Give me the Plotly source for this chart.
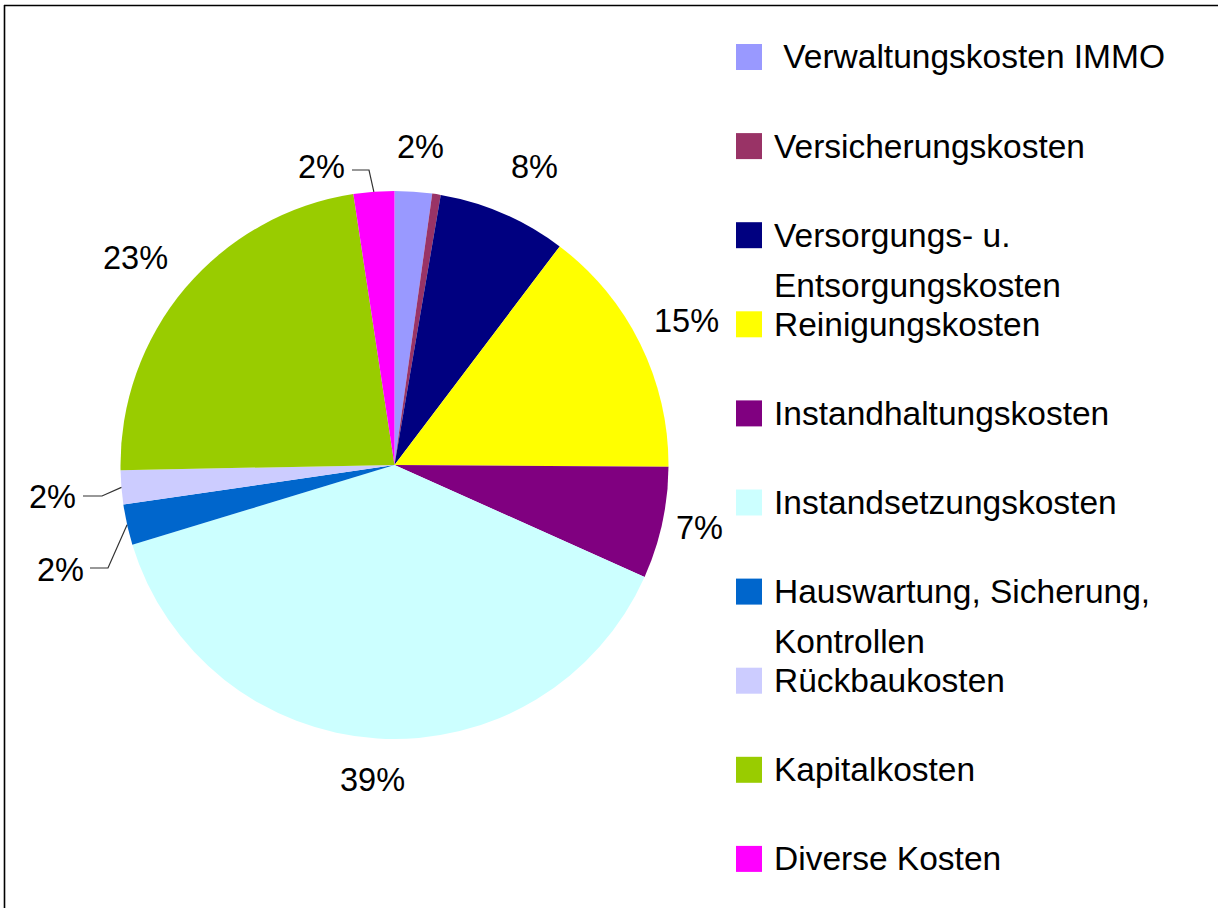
import math
import plotly.graph_objects as go

# ---------------- data ----------------
categories = [
    " Verwaltungskosten IMMO",
    "Versicherungskosten",
    "Versorgungs- u. Entsorgungskosten",
    "Reinigungskosten",
    "Instandhaltungskosten",
    "Instandsetzungskosten",
    "Hauswartung, Sicherung, Kontrollen",
    "Rückbaukosten",
    "Kapitalkosten",
    "Diverse Kosten",
]
shares = [2.2, 0.5, 7.6, 14.8, 6.6, 38.6, 2.4, 2.0, 22.9, 2.4]
colors = ["#9999FF", "#993366", "#000080", "#FFFF00", "#800080",
          "#CCFFFF", "#0066CC", "#CCCCFF", "#99CC00", "#FF00FF"]

# ---------------- layout constants (pixels) ----------------
W, H = 1218, 908
CX, CY, R = 394.5, 465.0, 274.0
FONT = "Liberation Sans, Arial, sans-serif"
LABEL_FS = 32.5
LEGEND_FS = 33.5

# visual centres of percentage labels (None = no label shown)
label_pos = [(420, 147), None, (534, 167), (686, 321), (699, 528),
             (372, 780), (60, 570), (52, 497), (135, 258), (321, 167)]
# leader lines: (start, elbow) in pixels; end point is computed on the pie rim
leaders = {6: ((90, 568), (108, 568)),
           7: ((83, 496), (102, 496)),
           9: ((352, 170), (369, 170))}

LEG_X_SQ, LEG_SQ = 736, 26
LEG_X_TXT = 772
LEG_Y0, LEG_DY, LEG_LINE = 57.0, 89.1, 50.0
WRAP = 24


def px(x):
    return x / W


def py(y):
    return 1 - y / H


fig = go.Figure(go.Pie(
    labels=categories,
    values=shares,
    marker=dict(colors=colors, line=dict(width=0)),
    sort=False,
    direction="clockwise",
    rotation=0,
    textinfo="none",
    hoverinfo="label+percent",
    showlegend=False,
    domain=dict(x=[px(CX - R), px(CX + R)], y=[py(CY + R), py(CY - R)]),
))

total = sum(shares)
annotations = []
shapes = []

# percentage labels
cum = 0.0
for i, v in enumerate(shares):
    mid = (cum + v / 2) / total * 2 * math.pi
    cum += v
    if label_pos[i] is None:
        continue
    lx, ly = label_pos[i]
    annotations.append(dict(
        x=px(lx), y=py(ly), xref="paper", yref="paper",
        text=f"{round(v / total * 100)}%", showarrow=False,
        xanchor="center", yanchor="middle",
        font=dict(family=FONT, size=LABEL_FS, color="#000000"),
    ))
    if i in leaders:
        (sx, sy), (ex, ey) = leaders[i]
        rx = CX + R * math.sin(mid)
        ry = CY - R * math.cos(mid)
        path = f"M {px(sx)} {py(sy)} L {px(ex)} {py(ey)} L {px(rx)} {py(ry)}"
        shapes.append(dict(type="path", path=path, xref="paper", yref="paper",
                           line=dict(color="#333333", width=1.2)))


def wrap(label, width):
    words = label.strip().split(" ")
    lines, cur = [], ""
    for w in words:
        cand = (cur + " " + w) if cur else w
        if len(cand) > width and cur:
            lines.append(cur)
            cur = w
        else:
            cur = cand
    lines.append(cur)
    lead = len(label) - len(label.lstrip(" "))
    lines[0] = "\u00a0" * lead + lines[0]
    return lines


# legend (custom, to match the original spacing)
for i, (cat, col) in enumerate(zip(categories, colors)):
    yc = LEG_Y0 + i * LEG_DY
    shapes.append(dict(type="rect", xref="paper", yref="paper",
                       x0=px(LEG_X_SQ), x1=px(LEG_X_SQ + LEG_SQ),
                       y0=py(yc - LEG_SQ / 2), y1=py(yc + LEG_SQ / 2),
                       fillcolor=col, line=dict(width=0)))
    for k, line in enumerate(wrap(cat, WRAP)):
        annotations.append(dict(
            x=px(LEG_X_TXT), y=py(yc + k * LEG_LINE), xref="paper", yref="paper",
            text=line, showarrow=False, xanchor="left", yanchor="middle",
            font=dict(family=FONT, size=LEGEND_FS, color="#000000"),
        ))

# outer frame (top and left edges visible)
shapes.append(dict(type="line", xref="paper", yref="paper",
                   x0=px(4), x1=px(W + 5), y0=py(5.5), y1=py(5.5),
                   line=dict(color="#000000", width=1.6)))
shapes.append(dict(type="line", xref="paper", yref="paper",
                   x0=px(4.5), x1=px(4.5), y0=py(5), y1=py(H + 5),
                   line=dict(color="#000000", width=1.6)))

fig.update_layout(
    width=W, height=H,
    margin=dict(l=0, r=0, t=0, b=0),
    paper_bgcolor="#FFFFFF", plot_bgcolor="#FFFFFF",
    annotations=annotations, shapes=shapes,
    font=dict(family=FONT),
)

fig.write_html(
    "out.html",
    config={"displayModeBar": False},
    post_script="document.body.style.margin='0';document.body.style.overflow='hidden';",
)
